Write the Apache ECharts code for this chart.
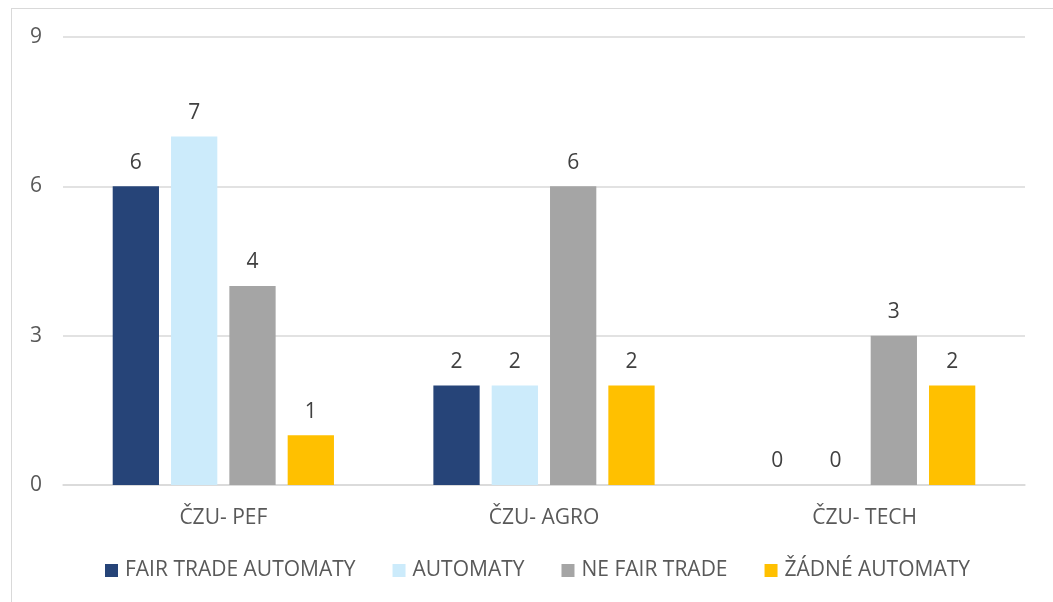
<!DOCTYPE html>
<html lang="cs">
<head>
    <meta charset="UTF-8">
    <title>Automaty</title>
    <style>
        html, body {
            margin: 0;
            padding: 0;
            background: #fff;
        }

        #frame {
            position: absolute;
            left: 11px;
            top: 8px;
            width: 1050px;
            height: 600px;
            border: 1px solid #d9d9d9;
        }

        #main {
            position: absolute;
            left: 0;
            top: 0;
            width: 1053px;
            height: 602px;
        }
    </style>
</head>
<body>
<div id="frame"></div>
<div id="main"></div>
<script src="https://cdn.jsdelivr.net/npm/echarts@6/dist/echarts.min.js"></script>
<script>
    var categories = ['ČZU- PEF', 'ČZU- AGRO', 'ČZU- TECH'];
    var fairTrade = [6, 2, 0];
    var automaty = [7, 2, 0];
    var neFairTrade = [4, 6, 3];
    var zadne = [1, 2, 2];
    var yTicks = [0, 3, 6, 9];

    var font = '"Open Sans", sans-serif';
    var textColor = '#595959';

    var bar = function (name, data, color) {
        return {
            name: name,
            type: 'bar',
            data: data,
            barGap: '26%',
            barCategoryGap: '31%',
            itemStyle: {color: color},
            label: {
                show: true,
                position: 'top',
                distance: 13,
                color: '#404040',
                fontFamily: font,
                fontSize: 21
            }
        };
    };

    var option = {
        animation: false,
        grid: {
            left: 63,
            right: 28,
            top: 37,
            bottom: 117
        },
        legend: {
            top: 555,
            left: 100,
            itemWidth: 13,
            itemHeight: 13,
            itemGap: 37,
            icon: 'rect',
            textStyle: {
                color: textColor,
                fontFamily: font,
                fontSize: 21,
                padding: [0, 0, 0, 2]
            }
        },
        xAxis: {
            type: 'category',
            data: categories,
            axisTick: {show: false},
            axisLine: {lineStyle: {color: '#d9d9d9', width: 1.5}},
            axisLabel: {
                color: textColor,
                fontFamily: font,
                fontSize: 21,
                margin: 23
            }
        },
        yAxis: {
            type: 'value',
            min: yTicks[0],
            max: yTicks[yTicks.length - 1],
            interval: 3,
            axisLine: {show: false},
            axisTick: {show: false},
            splitLine: {lineStyle: {color: '#d9d9d9', width: 1.5}},
            axisLabel: {
                color: textColor,
                fontFamily: font,
                fontSize: 21,
                margin: 21
            }
        },
        series: [
            bar('FAIR TRADE AUTOMATY', fairTrade, '#264478'),
            bar('AUTOMATY', automaty, '#CCEBFB'),
            bar('NE FAIR TRADE', neFairTrade, '#A5A5A5'),
            bar('ŽÁDNÉ AUTOMATY', zadne, '#FFC000')
        ]
    };

    var myChart = echarts.init(document.getElementById('main'));
    myChart.setOption(option);
</script>
</body>
</html>
